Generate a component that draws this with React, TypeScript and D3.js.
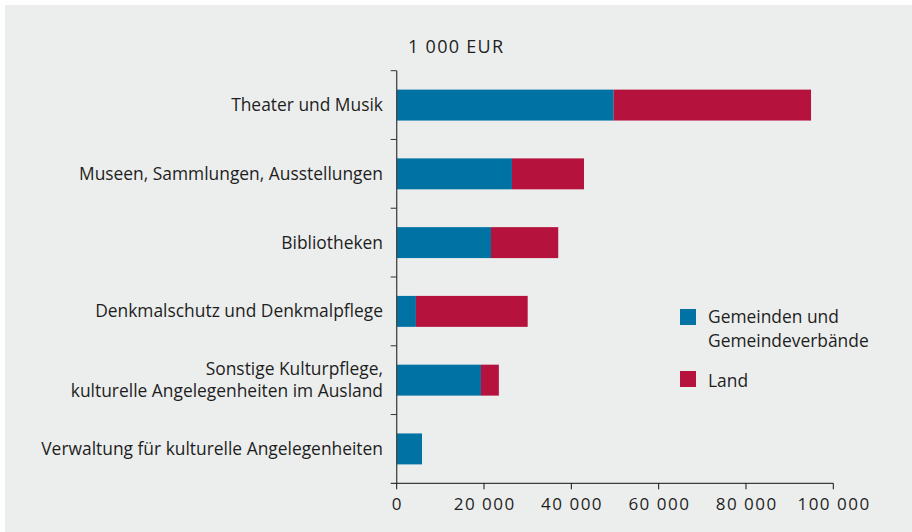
import React from "react";
import * as d3 from "d3";

const categories: string[][] = [
  ["Theater und Musik"],
  ["Museen, Sammlungen, Ausstellungen"],
  ["Bibliotheken"],
  ["Denkmalschutz und Denkmalpflege"],
  ["Sonstige Kulturpflege,", "kulturelle Angelegenheiten im Ausland"],
  ["Verwaltung für kulturelle Angelegenheiten"],
];
const gemeinden = [49700, 26400, 21600, 4400, 19300, 5800];
const land = [45200, 16500, 15400, 25600, 4100, 0];
const xTicks = [0, 20000, 40000, 60000, 80000, 100000];
const seriesNames = [["Gemeinden und", "Gemeindeverbände"], ["Land"]];
const colors = ["#0072a3", "#b5123e"];
const unitLabel = "1 000 EUR";

const FONT = "'Open Sans', 'Noto Sans', sans-serif";

export default function App() {
  const W = 912, H = 532;
  const left = 396.7, right = 833.3, top = 70.7, bottom = 483.3;
  const x = d3.scaleLinear().domain([0, 100000]).range([left, right]);
  const y = d3.scaleBand<number>().domain(d3.range(categories.length)).range([top, bottom]).paddingInner(0.55).paddingOuter(0.275);
  const bounds = d3.range(categories.length + 1).map((i) => top + (i * (bottom - top)) / categories.length);
  const fmt = (v: number) => d3.format(",")(v).replace(/,/g, " ");
  const textColor = "#1e1e1e";
  const fs = 17.4;
  return (
    <svg width={W} height={H} style={{ position: "absolute", left: 0, top: 0 }} fontFamily={FONT}>
      <rect x={5} y={5} width={W - 5} height={H - 5} fill="#eceeed" />
      <text x={408} y={53} fontSize={18} letterSpacing={1.3} fill={textColor}>{unitLabel}</text>
      {categories.map((c, i) => {
        const y0 = y(i)!;
        const bw = y.bandwidth();
        return (
          <g key={i}>
            <rect x={x(0)} y={y0} width={x(gemeinden[i]) - x(0)} height={bw} fill={colors[0]} />
            {land[i] > 0 && (
              <rect x={x(gemeinden[i])} y={y0} width={x(gemeinden[i] + land[i]) - x(gemeinden[i])} height={bw} fill={colors[1]} />
            )}
            {c.map((line, j) => (
              <text key={j} x={383} y={y0 + bw / 2 + 6 + (j - (c.length - 1) / 2) * 22.5} textAnchor="end" fontSize={fs} fill={textColor}>
                {line}
              </text>
            ))}
          </g>
        );
      })}
      <line x1={left} x2={left} y1={top} y2={bottom} stroke="#444" strokeWidth={1.3} />
      {bounds.slice(0, -1).map((b, i) => (
        <line key={i} x1={left - 6} x2={left} y1={b} y2={b} stroke="#333" strokeWidth={1} />
      ))}
      <line x1={left - 6} x2={right} y1={bottom} y2={bottom} stroke="#111" strokeWidth={1} />
      {xTicks.map((t) => (
        <g key={t}>
          <line x1={x(t)} x2={x(t)} y1={bottom} y2={bottom + 6} stroke="#111" strokeWidth={1} />
          <text x={x(t) + 0.75} y={510} textAnchor="middle" fontSize={17} letterSpacing={1.5} fill={textColor}>{fmt(t)}</text>
        </g>
      ))}
      <rect x={680} y={309} width={16} height={16} fill={colors[0]} />
      <text x={708} y={323} fontSize={fs} fill={textColor}>
        {seriesNames[0].map((l, j) => (
          <tspan key={j} x={708} dy={j === 0 ? 0 : 24}>{l}</tspan>
        ))}
      </text>
      <rect x={680} y={371} width={16} height={16} fill={colors[1]} />
      <text x={708} y={387} fontSize={fs} fill={textColor}>{seriesNames[1][0]}</text>
    </svg>
  );
}
